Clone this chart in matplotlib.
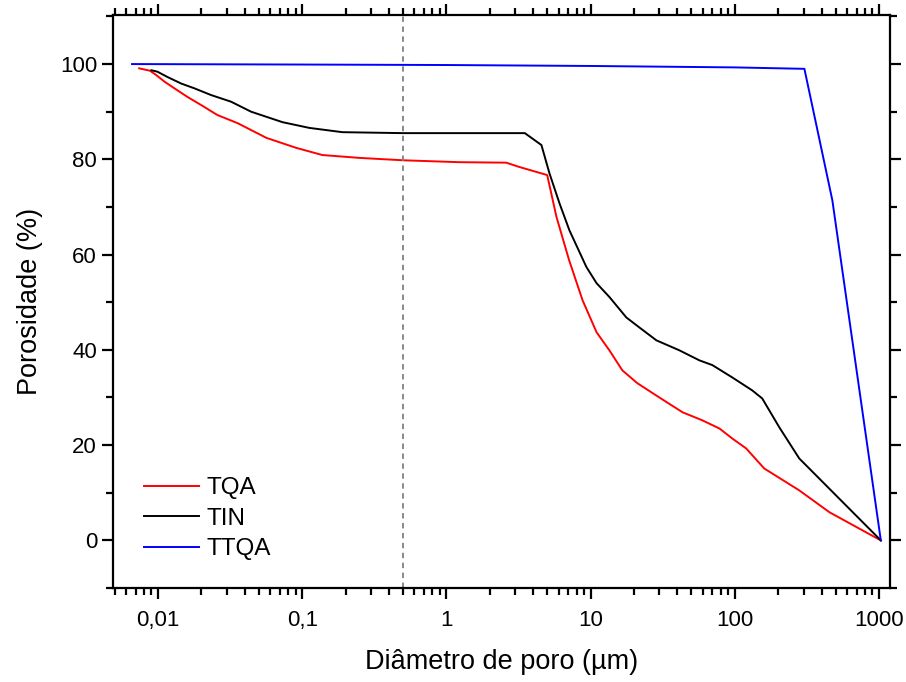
import matplotlib
matplotlib.use("Agg")
import matplotlib.pyplot as plt
from matplotlib.ticker import FixedLocator, FuncFormatter, LogLocator, NullFormatter

plt.rcParams["font.family"] = ["Liberation Sans", "DejaVu Sans"]

# diametro de poro (um) e porosidade (%)
tqa_x = [0.0074, 0.0088, 0.0097, 0.0111, 0.0130, 0.0160, 0.0199, 0.0258, 0.0356,
         0.0565, 0.091, 0.138, 0.25, 0.5, 1.23, 2.6, 3.2, 5.0, 5.8, 7.1, 8.8,
         11.0, 13.5, 16.6, 21.1, 30, 43.4, 59.6, 78.2, 96, 120, 160, 280, 454, 1030]
tqa_y = [99.1, 98.6, 97.7, 96.3, 94.9, 93.1, 91.4, 89.3, 87.6,
         84.5, 82.4, 80.9, 80.3, 79.8, 79.4, 79.3, 78.4, 76.7, 67.9, 58.8, 50.4,
         43.7, 39.9, 35.7, 33.0, 30.0, 26.9, 25.2, 23.5, 21.4, 19.3, 15.1, 10.5, 5.9, 0.0]

tin_x = [0.0090, 0.0099, 0.0116, 0.0145, 0.0179, 0.0233, 0.0321, 0.0442, 0.073,
         0.112, 0.19, 0.5, 1.23, 3.5, 4.56, 5.18, 6.08, 7.13, 9.35, 11.0, 13.5,
         17.7, 21.8, 28.6, 41.3, 56.8, 69.9, 96.2, 132, 155, 204, 280, 1030]
tin_y = [98.7, 98.4, 97.3, 95.9, 94.9, 93.5, 92.1, 90.0, 87.8,
         86.6, 85.7, 85.5, 85.5, 85.5, 83.0, 77.1, 70.8, 65.1, 57.4, 54.0, 51.1,
         46.8, 44.7, 42.0, 39.9, 37.8, 36.8, 34.2, 31.5, 29.8, 23.7, 17.2, 0.0]

ttqa_x = [0.0066, 0.1, 1.0, 10, 100, 304, 475, 1030]
ttqa_y = [100.0, 99.9, 99.8, 99.6, 99.3, 99.0, 71.4, 0.0]

corte = 0.5


def formata(v, pos):
    if v >= 1:
        return "%d" % v
    return ("%g" % v).replace(".", ",")


fig = plt.figure(figsize=(9.06, 6.82), dpi=100)
ax = fig.add_axes([0.1247, 0.1378, 0.8576, 0.8402])

ax.plot(tqa_x, tqa_y, color="#ff0000", lw=1.4, label="TQA")
ax.plot(tin_x, tin_y, color="black", lw=1.4, label="TIN")
ax.plot(ttqa_x, ttqa_y, color="#0000ff", lw=1.4, label="TTQA")
ax.axvline(corte, color="#808080", lw=1.3, ls=(0, (3, 2.5)))

ax.set_xscale("log")
ax.set_xlim(0.00487, 1192)
ax.set_ylim(-10, 110.3)

ax.xaxis.set_major_locator(FixedLocator([0.01, 0.1, 1, 10, 100, 1000]))
ax.xaxis.set_major_formatter(FuncFormatter(formata))
ax.xaxis.set_minor_locator(LogLocator(base=10, subs=range(2, 10), numticks=20))
ax.xaxis.set_minor_formatter(NullFormatter())
ax.yaxis.set_major_locator(FixedLocator([0, 20, 40, 60, 80, 100]))
ax.yaxis.set_minor_locator(FixedLocator([-10, 10, 30, 50, 70, 90, 110]))

for s in ax.spines.values():
    s.set_linewidth(1.6)

ax.tick_params(which="both", direction="out", top=True, right=True,
               labelsize=16, width=1.6)
ax.tick_params(which="major", length=8)
ax.tick_params(which="minor", length=5)
ax.tick_params(axis="x", which="major", pad=8)

ax.set_xlabel("Diâmetro de poro (µm)", fontsize=19.5, labelpad=13)
ax.set_ylabel("Porosidade (%)", fontsize=19.5, labelpad=12)

ax.legend(loc="lower left", bbox_to_anchor=(0.012, 0.01), frameon=False,
          fontsize=17.5, handlelength=2.25, handletextpad=0.3, labelspacing=0.35)

plt.savefig("out.png", dpi=100)
plt.close()
